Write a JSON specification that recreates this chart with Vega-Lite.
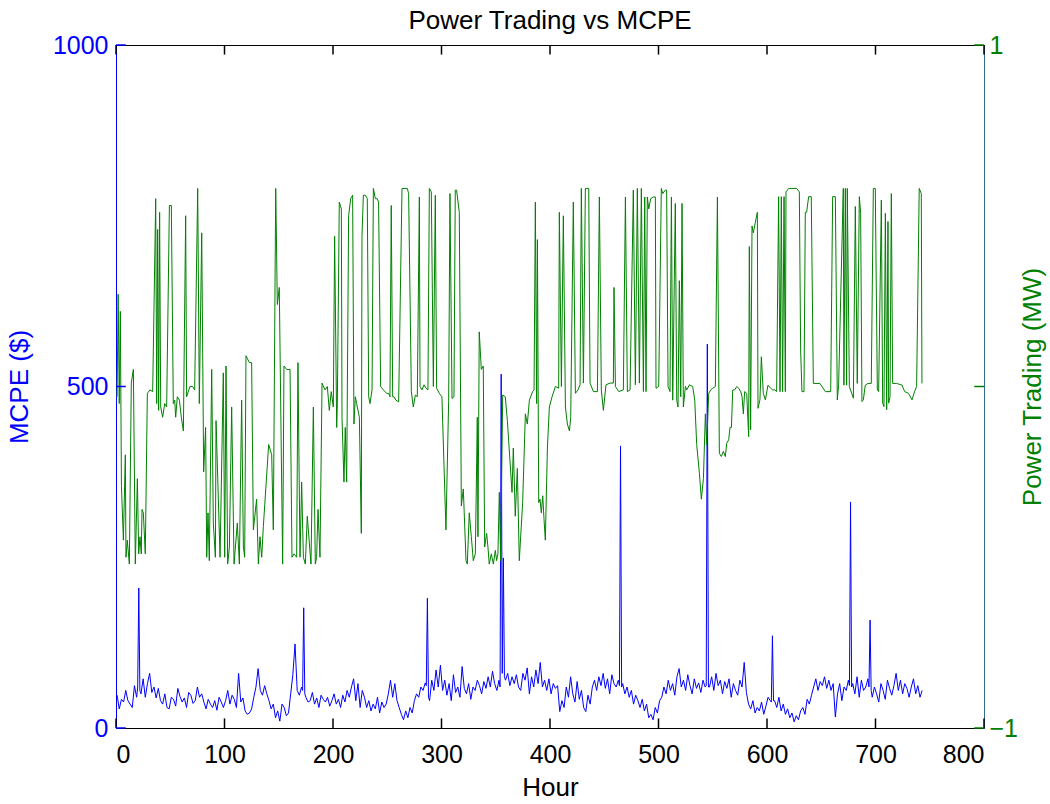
{
"$schema": "https://vega.github.io/schema/vega-lite/v6.json",
"width": 868, "height": 683,
"autosize": {"type": "none"},
"padding": {"left": 116, "top": 45, "right": 66, "bottom": 76},
"background": "white",
"title": {"text": "Power Trading vs MCPE", "fontSize": 26, "fontWeight": "normal", "font": "Liberation Sans", "color": "black", "offset": -1},
"config": {"font": "Liberation Sans", "view": {"stroke": "black", "strokeWidth": 1},
  "axis": {"grid": false, "ticks": false, "labelFont": "Liberation Sans", "titleFont": "Liberation Sans", "labelFontSize": 25, "titleFontSize": 26, "titleFontWeight": "normal", "domainWidth": 1}},
"datasets": {
"xticks": [{"h":0},{"h":100},{"h":200},{"h":300},{"h":400},{"h":500},{"h":600},{"h":700},{"h":800}],
"lticks": [{"p":0},{"p":500},{"p":1000}],
"rticks": [{"t":-1},{"t":0},{"t":1}],
"mcpe": [
{"h":1,"p":48},{"h":3,"p":28},{"h":5,"p":42},{"h":7,"p":38},{"h":9,"p":55},{"h":11,"p":40},{"h":13,"p":35},{"h":15,"p":30},{"h":17,"p":62},{"h":19,"p":45},{"h":20,"p":60},{"h":21,"p":205},{"h":22,"p":55},{"h":23,"p":50},{"h":25,"p":72},{"h":27,"p":45},{"h":29,"p":65},{"h":31,"p":80},{"h":33,"p":52},{"h":35,"p":60},{"h":37,"p":44},{"h":39,"p":58},
{"h":41,"p":40},{"h":43,"p":35},{"h":45,"p":50},{"h":47,"p":30},{"h":49,"p":28},{"h":51,"p":45},{"h":53,"p":42},{"h":55,"p":32},{"h":57,"p":58},{"h":59,"p":46},{"h":61,"p":38},{"h":63,"p":44},{"h":65,"p":30},{"h":67,"p":52},{"h":69,"p":48},{"h":71,"p":36},{"h":73,"p":40},{"h":75,"p":60},{"h":77,"p":45},{"h":79,"p":50},{"h":81,"p":38},{"h":83,"p":28},{"h":85,"p":42},{"h":87,"p":35},{"h":89,"p":30},{"h":91,"p":40},{"h":93,"p":26},{"h":95,"p":45},{"h":97,"p":38},{"h":99,"p":30},
{"h":101,"p":40},{"h":103,"p":55},{"h":105,"p":35},{"h":107,"p":48},{"h":109,"p":42},{"h":111,"p":30},{"h":113,"p":80},{"h":115,"p":38},{"h":117,"p":44},{"h":119,"p":25},{"h":121,"p":20},{"h":123,"p":22},{"h":125,"p":28},
{"h":127,"p":45},{"h":129,"p":60},{"h":131,"p":87},{"h":133,"p":55},{"h":135,"p":48},{"h":137,"p":62},{"h":139,"p":50},
{"h":141,"p":40},{"h":143,"p":28},{"h":145,"p":35},{"h":147,"p":15},{"h":149,"p":25},{"h":151,"p":10},{"h":153,"p":35},{"h":155,"p":30},{"h":157,"p":18},{"h":159,"p":22},
{"h":161,"p":50},{"h":163,"p":78},{"h":165,"p":123},{"h":167,"p":55},{"h":169,"p":48},{"h":171,"p":60},{"h":172,"p":55},{"h":173,"p":176},{"h":174,"p":50},{"h":175,"p":45},{"h":177,"p":38},{"h":179,"p":40},{"h":181,"p":52},{"h":183,"p":35},{"h":185,"p":44},{"h":187,"p":30},{"h":189,"p":48},{"h":191,"p":42},{"h":193,"p":38},{"h":195,"p":45},{"h":197,"p":32},{"h":199,"p":40},
{"h":201,"p":50},{"h":203,"p":35},{"h":205,"p":42},{"h":207,"p":30},{"h":209,"p":48},{"h":211,"p":38},{"h":213,"p":55},
{"h":215,"p":45},{"h":217,"p":60},{"h":219,"p":72},{"h":221,"p":40},{"h":223,"p":65},{"h":225,"p":30},{"h":227,"p":55},{"h":229,"p":45},
{"h":231,"p":30},{"h":233,"p":40},{"h":235,"p":25},{"h":237,"p":35},{"h":239,"p":28},{"h":241,"p":45},{"h":243,"p":22},{"h":245,"p":38},{"h":247,"p":30},{"h":249,"p":35},
{"h":251,"p":50},{"h":253,"p":70},{"h":255,"p":45},{"h":257,"p":65},{"h":259,"p":40},
{"h":261,"p":30},{"h":263,"p":20},{"h":265,"p":12},{"h":267,"p":25},{"h":269,"p":15},{"h":271,"p":30},{"h":273,"p":22},{"h":275,"p":40},
{"h":277,"p":50},{"h":279,"p":45},{"h":281,"p":60},{"h":283,"p":55},{"h":285,"p":66},{"h":286,"p":62},{"h":287,"p":190},{"h":288,"p":45},
{"h":289,"p":40},{"h":291,"p":70},{"h":293,"p":55},{"h":295,"p":85},{"h":297,"p":60},{"h":299,"p":92},
{"h":301,"p":55},{"h":303,"p":70},{"h":305,"p":48},{"h":307,"p":65},{"h":309,"p":40},{"h":311,"p":78},{"h":313,"p":52},{"h":315,"p":60},{"h":317,"p":45},{"h":319,"p":90},{"h":321,"p":58},{"h":323,"p":50},{"h":325,"p":65},{"h":327,"p":42},{"h":329,"p":60},
{"h":331,"p":55},{"h":333,"p":70},{"h":335,"p":62},{"h":337,"p":50},{"h":339,"p":68},{"h":341,"p":58},{"h":343,"p":75},{"h":345,"p":60},{"h":347,"p":83},{"h":349,"p":65},{"h":351,"p":55},{"h":353,"p":70},{"h":354,"p":60},{"h":355,"p":518},{"h":356,"p":80},{"h":357,"p":249},{"h":358,"p":75},
{"h":359,"p":70},{"h":361,"p":80},{"h":363,"p":62},{"h":365,"p":75},{"h":367,"p":65},{"h":369,"p":78},{"h":371,"p":60},
{"h":373,"p":55},{"h":375,"p":80},{"h":377,"p":70},{"h":379,"p":88},{"h":381,"p":50},{"h":383,"p":75},{"h":385,"p":60},{"h":387,"p":85},{"h":389,"p":65},{"h":391,"p":96},
{"h":393,"p":60},{"h":395,"p":70},{"h":397,"p":55},{"h":399,"p":72},{"h":401,"p":50},{"h":403,"p":65},{"h":405,"p":58},{"h":407,"p":62},
{"h":409,"p":24},{"h":411,"p":40},{"h":413,"p":30},
{"h":415,"p":60},{"h":417,"p":45},{"h":419,"p":75},{"h":421,"p":50},{"h":423,"p":38},{"h":425,"p":68},{"h":427,"p":42},{"h":429,"p":55},{"h":431,"p":30},{"h":433,"p":24},{"h":435,"p":48},{"h":437,"p":35},
{"h":439,"p":60},{"h":441,"p":70},{"h":443,"p":55},{"h":445,"p":75},{"h":447,"p":62},{"h":449,"p":80},{"h":451,"p":58},{"h":453,"p":72},{"h":455,"p":50},{"h":457,"p":78},{"h":459,"p":65},{"h":461,"p":60},{"h":463,"p":70},{"h":464,"p":62},{"h":465,"p":413},{"h":466,"p":60},
{"h":467,"p":65},{"h":469,"p":50},{"h":471,"p":60},{"h":473,"p":45},{"h":475,"p":55},{"h":477,"p":35},{"h":479,"p":48},{"h":481,"p":40},{"h":483,"p":30},{"h":485,"p":42},{"h":487,"p":25},{"h":489,"p":35},{"h":491,"p":15},{"h":493,"p":20},{"h":495,"p":12},{"h":497,"p":30},{"h":499,"p":22},{"h":501,"p":40},
{"h":503,"p":45},{"h":505,"p":60},{"h":507,"p":50},{"h":509,"p":70},{"h":511,"p":55},{"h":513,"p":65},{"h":515,"p":48},{"h":517,"p":75},{"h":519,"p":87},{"h":521,"p":60},{"h":523,"p":70},{"h":525,"p":55},{"h":527,"p":78},{"h":529,"p":62},{"h":531,"p":50},{"h":533,"p":72},{"h":535,"p":58},{"h":537,"p":66},{"h":539,"p":52},{"h":541,"p":70},{"h":543,"p":60},{"h":544,"p":62},{"h":545,"p":562},{"h":546,"p":60},
{"h":547,"p":60},{"h":549,"p":75},{"h":551,"p":55},{"h":553,"p":80},{"h":555,"p":62},{"h":557,"p":70},{"h":559,"p":50},{"h":561,"p":68},{"h":563,"p":58},{"h":565,"p":72},{"h":567,"p":45},{"h":569,"p":65},{"h":571,"p":55},{"h":573,"p":48},{"h":575,"p":70},{"h":577,"p":60},{"h":579,"p":96},{"h":581,"p":52},
{"h":583,"p":35},{"h":585,"p":28},{"h":587,"p":40},{"h":589,"p":22},{"h":591,"p":30},{"h":593,"p":25},{"h":595,"p":38},{"h":597,"p":20},{"h":599,"p":32},{"h":601,"p":45},{"h":603,"p":40},{"h":604,"p":38},{"h":605,"p":135},{"h":606,"p":40},
{"h":607,"p":40},{"h":609,"p":30},{"h":611,"p":45},{"h":613,"p":25},{"h":615,"p":35},{"h":617,"p":20},{"h":619,"p":28},{"h":621,"p":15},{"h":623,"p":22},{"h":625,"p":9},{"h":627,"p":18},{"h":629,"p":12},{"h":631,"p":25},{"h":633,"p":30},{"h":635,"p":20},{"h":637,"p":42},{"h":639,"p":35},{"h":641,"p":48},
{"h":643,"p":60},{"h":645,"p":72},{"h":647,"p":55},{"h":649,"p":68},{"h":651,"p":62},{"h":653,"p":75},{"h":655,"p":58},{"h":657,"p":70},{"h":659,"p":55},{"h":661,"p":65},
{"h":663,"p":16},{"h":665,"p":50},{"h":667,"p":65},{"h":669,"p":40},{"h":671,"p":60},{"h":673,"p":55},{"h":675,"p":70},{"h":676,"p":62},{"h":677,"p":331},{"h":678,"p":60},
{"h":679,"p":65},{"h":681,"p":50},{"h":683,"p":75},{"h":685,"p":45},{"h":687,"p":70},{"h":689,"p":55},{"h":691,"p":60},{"h":693,"p":72},{"h":694,"p":60},{"h":695,"p":158},{"h":696,"p":55},
{"h":697,"p":45},{"h":699,"p":60},{"h":701,"p":50},{"h":703,"p":38},{"h":705,"p":65},{"h":707,"p":55},{"h":709,"p":42},{"h":711,"p":70},{"h":713,"p":58},{"h":715,"p":48},{"h":717,"p":62},{"h":719,"p":80},{"h":721,"p":55},{"h":723,"p":70},{"h":725,"p":50},{"h":727,"p":65},{"h":729,"p":58},{"h":731,"p":45},{"h":733,"p":60},{"h":735,"p":72},{"h":737,"p":50},{"h":739,"p":62},{"h":741,"p":45},{"h":743,"p":55}
],
"trade": [
{"h":1,"t":-0.03},{"h":2,"t":0.27},{"h":3,"t":-0.05},{"h":4,"t":0.22},{"h":5,"t":-0.29},{"h":6.8,"t":-0.45},{"h":8.6,"t":-0.2},{"h":9.2,"t":-0.5},{"h":10.4,"t":-0.45},{"h":12.3,"t":-0.52},{"h":14.1,"t":0.01},{"h":16,"t":0.05},{"h":17.8,"t":-0.52},{"h":19.7,"t":-0.27},{"h":20.9,"t":-0.49},{"h":22.1,"t":-0.44},{"h":23.3,"t":-0.49},{"h":24,"t":-0.36},{"h":25.2,"t":-0.37},{"h":27,"t":-0.49},{"h":28.9,"t":-0.02},{"h":31.3,"t":-0.01},{"h":33.8,"t":-0.015},{"h":36.6,"t":0.55},{"h":37.5,"t":-0.05},{"h":38.4,"t":0.46},{"h":39.3,"t":-0.07},{"h":40.2,"t":0.51},{"h":41.2,"t":-0.06},{"h":43,"t":-0.09},{"h":44.9,"t":-0.05},{"h":46.7,"t":-0.06},{"h":49.2,"t":0.53},{"h":51,"t":0.53},{"h":52.8,"t":-0.05},{"h":54.1,"t":-0.04},{"h":55,"t":-0.09},{"h":56.5,"t":-0.03},{"h":58.4,"t":-0.04},{"h":60.2,"t":-0.09},{"h":62.1,"t":-0.13},{"h":64.2,"t":0.5},{"h":65.1,"t":-0.03},{"h":68.2,"t":0},{"h":70.7,"t":0},{"h":72.5,"t":-0.01},{"h":75.3,"t":0.58},{"h":76.8,"t":-0.05},{"h":79,"t":0.45},{"h":80.8,"t":-0.25},{"h":82.6,"t":-0.12},{"h":83.6,"t":-0.5},{"h":84.8,"t":-0.37},{"h":86,"t":-0.51},{"h":88.2,"t":0.05},{"h":89.7,"t":-0.4},{"h":91.6,"t":-0.5},{"h":92.2,"t":-0.1},{"h":95.9,"t":-0.5},{"h":98.9,"t":0.04},{"h":100.2,"t":-0.5},{"h":101.4,"t":0.06},{"h":102.9,"t":-0.52},{"h":104.5,"t":-0.47},{"h":106.6,"t":-0.06},{"h":108.8,"t":-0.52},{"h":111.8,"t":-0.4},{"h":113.7,"t":-0.52},{"h":115.8,"t":-0.04},{"h":117.4,"t":-0.47},{"h":118.6,"t":-0.5},{"h":119.8,"t":0.09},{"h":122.9,"t":0.07},{"h":125,"t":0.07},{"h":126.6,"t":-0.42},{"h":129.6,"t":-0.33},{"h":131.2,"t":-0.52},{"h":132.7,"t":-0.44},{"h":134.3,"t":-0.5},{"h":135.8,"t":-0.41},{"h":140.7,"t":-0.17},{"h":143.5,"t":-0.2},{"h":145,"t":-0.42},{"h":147.2,"t":0.58},{"h":148.7,"t":0.24},{"h":150.5,"t":0.29},{"h":153.6,"t":-0.52},{"h":154.8,"t":0.06},{"h":157.3,"t":0.05},{"h":160.4,"t":0.05},{"h":162.2,"t":-0.5},{"h":164.1,"t":-0.49},{"h":166.5,"t":-0.5},{"h":167.7,"t":0.07},{"h":169.6,"t":-0.5},{"h":171.1,"t":-0.28},{"h":172.7,"t":-0.5},{"h":174.5,"t":-0.52},{"h":176.3,"t":-0.38},{"h":179.7,"t":-0.52},{"h":181.9,"t":-0.06},{"h":183.7,"t":-0.52},{"h":184.9,"t":-0.5},{"h":186.2,"t":-0.36},{"h":188,"t":-0.5},{"h":189.9,"t":0.01},{"h":192.6,"t":-0.01},{"h":194.8,"t":0},{"h":196.6,"t":-0.07},
{"h":198.4,"t":-0.015},{"h":200.3,"t":-0.06},{"h":201.5,"t":0.44},{"h":203.4,"t":-0.12},{"h":204,"t":-0.05},{"h":205.8,"t":0.54},{"h":207.7,"t":0.52},{"h":208.3,"t":-0.09},{"h":210.1,"t":-0.28},{"h":211.3,"t":-0.12},{"h":212.6,"t":-0.28},{"h":214.4,"t":0.5},{"h":216.3,"t":0.55},{"h":218.1,"t":0.56},{"h":219.3,"t":-0.11},{"h":220.6,"t":-0.03},{"h":221.8,"t":-0.05},{"h":224.3,"t":-0.09},{"h":226.1,"t":-0.43},{"h":226.7,"t":0.44},{"h":228,"t":0.56},{"h":229.8,"t":0.56},{"h":231.6,"t":0.55},{"h":232.9,"t":-0.03},{"h":234.1,"t":-0.05},{"h":236,"t":-0.01},{"h":237.2,"t":0.58},{"h":239,"t":0.55},{"h":240.8,"t":0.55},{"h":242,"t":0.54},{"h":243.9,"t":0},{"h":246.4,"t":-0.01},{"h":249.4,"t":-0.02},{"h":251.3,"t":-0.02},{"h":252.5,"t":-0.03},{"h":253.7,"t":0.53},{"h":255,"t":-0.03},{"h":256.2,"t":-0.03},{"h":258,"t":-0.04},{"h":260.5,"t":-0.045},{"h":263.6,"t":0.58},{"h":268.5,"t":0.58},{"h":269.7,"t":0.565},{"h":272.2,"t":-0.015},{"h":274,"t":-0.06},{"h":275.9,"t":-0.025},{"h":277.7,"t":-0.03},{"h":279.6,"t":0.555},{"h":280.2,"t":0},{"h":282,"t":-0.01},{"h":283.9,"t":0.005},{"h":285.7,"t":-0.005},{"h":287.5,"t":-0.01},{"h":288.8,"t":0.58},{"h":290.6,"t":0.57},{"h":292.5,"t":0},{"h":294.3,"t":0.56},{"h":295.5,"t":-0.005},{"h":298,"t":-0.02},{"h":300.4,"t":-0.03},{"h":304.1,"t":-0.42},{"h":306.6,"t":-0.04},{"h":307.8,"t":0.565},{"h":309.7,"t":-0.035},{"h":311.5,"t":-0.03},{"h":312.7,"t":0.575},{"h":313.9,"t":0.575},{"h":316.4,"t":0.51},{"h":318.3,"t":-0.35},{"h":320.1,"t":-0.3},{"h":322.6,"t":-0.51},{"h":323.8,"t":-0.52},{"h":325.6,"t":-0.37},{"h":327.5,"t":-0.44},{"h":329.3,"t":-0.51},{"h":331.2,"t":-0.49},{"h":333,"t":-0.09},{"h":333.6,"t":-0.44},{"h":334.8,"t":0.16},{"h":336.7,"t":0.05},{"h":338.5,"t":0.06},{"h":339.8,"t":-0.47},{"h":341.6,"t":-0.43},{"h":342.8,"t":-0.47},{"h":344,"t":-0.52},{"h":345.9,"t":-0.49},{"h":347.8,"t":-0.52},{"h":349.6,"t":-0.48},{"h":350.8,"t":-0.51},{"h":352,"t":-0.49},{"h":353.3,"t":-0.31},{"h":354.5,"t":-0.51},{"h":356.4,"t":-0.025},{"h":358.8,"t":-0.03},{"h":360.7,"t":-0.1},{"h":365,"t":-0.31},{"h":366.2,"t":-0.18},{"h":368,"t":-0.38},{"h":369.9,"t":-0.24},{"h":371.7,"t":-0.51},{"h":374.8,"t":-0.34},{"h":377.3,"t":-0.08},{"h":379.1,"t":-0.11},{"h":381,"t":-0.04},
{"h":384,"t":-0.015},{"h":385.3,"t":-0.01},{"h":386.5,"t":0.54},{"h":387.7,"t":-0.05},{"h":388.4,"t":0.43},{"h":389.6,"t":-0.34},{"h":390.8,"t":-0.33},{"h":392,"t":-0.37},{"h":393.3,"t":-0.32},{"h":394.5,"t":-0.39},{"h":395.7,"t":-0.45},{"h":397.6,"t":-0.18},{"h":399.4,"t":-0.06},{"h":401.9,"t":-0.03},{"h":405,"t":0},{"h":408,"t":-0.005},{"h":408.6,"t":0.51},{"h":410.5,"t":0},{"h":412.3,"t":0.5},{"h":414.2,"t":-0.06},{"h":416,"t":-0.11},{"h":417.9,"t":-0.13},{"h":419.1,"t":-0.09},{"h":421.5,"t":0.54},{"h":423.4,"t":-0.02},{"h":425.8,"t":-0.01},{"h":427.7,"t":0.005},{"h":428.9,"t":0.58},{"h":430.8,"t":0.01},{"h":432.6,"t":0.58},{"h":435.7,"t":0.58},{"h":436.9,"t":0.01},{"h":440,"t":-0.015},{"h":443.7,"t":-0.015},{"h":445.5,"t":0.555},{"h":447.3,"t":-0.01},{"h":449.2,"t":-0.07},{"h":451.6,"t":0.005},{"h":455.3,"t":0.01},{"h":458.4,"t":0.01},{"h":459,"t":0.29},{"h":460.3,"t":0},{"h":463.4,"t":-0.015},{"h":467.6,"t":-0.01},{"h":469.5,"t":0.555},{"h":471.3,"t":-0.015},{"h":473.8,"t":-0.01},{"h":476.8,"t":0.575},{"h":478.7,"t":0.005},{"h":480.5,"t":0.58},{"h":482.4,"t":0.01},{"h":484.2,"t":0.58},{"h":486.1,"t":-0.015},{"h":487.3,"t":0.555},{"h":488.5,"t":-0.015},{"h":489.7,"t":0.555},{"h":491,"t":0.52},{"h":492.8,"t":0.55},{"h":495.3,"t":0.555},{"h":497.1,"t":0.555},{"h":497.7,"t":-0.005},{"h":500.2,"t":0},{"h":502.6,"t":0.58},{"h":503.9,"t":0.565},{"h":506.3,"t":0.575},{"h":507.5,"t":0.575},{"h":508.8,"t":0},{"h":510.6,"t":-0.015},{"h":511.9,"t":0.555},{"h":513.1,"t":-0.04},{"h":515.5,"t":0.536},{"h":516.8,"t":-0.04},{"h":518,"t":-0.06},{"h":519.2,"t":0.31},{"h":520.5,"t":-0.03},{"h":521.7,"t":0.536},{"h":522.9,"t":-0.06},{"h":524.8,"t":0},{"h":526,"t":-0.01},{"h":528.5,"t":0.005},{"h":531.5,"t":0},{"h":533.4,"t":-0.04},{"h":535.2,"t":-0.17},{"h":537.7,"t":-0.254},{"h":539.5,"t":-0.33},{"h":541.4,"t":-0.27},{"h":543.2,"t":-0.08},{"h":544.4,"t":-0.17},{"h":546.3,"t":-0.02},{"h":548.1,"t":-0.01},{"h":550,"t":-0.005},{"h":552.4,"t":0},{"h":554.3,"t":0.555},{"h":556.1,"t":-0.196},{"h":557.9,"t":-0.205},{"h":559.8,"t":-0.19},{"h":561.6,"t":-0.205},{"h":562.9,"t":-0.166},{"h":564.7,"t":-0.156},{"h":565.9,"t":-0.12},{"h":567.2,"t":-0.12},{"h":568.4,"t":-0.01},{"h":570.2,"t":-0.01},{"h":572.1,"t":0},{"h":573.9,"t":-0.005},{"h":575.8,"t":-0.015},
{"h":577,"t":-0.03},{"h":578.2,"t":-0.08},{"h":579.4,"t":-0.015},{"h":581.3,"t":-0.02},{"h":583.1,"t":-0.147},{"h":583.7,"t":0.41},{"h":584.9,"t":-0.127},{"h":586.2,"t":0.47},{"h":587.4,"t":0.45},{"h":589.2,"t":0.48},{"h":591.1,"t":0.51},{"h":591.7,"t":-0.064},{"h":593.5,"t":-0.039},{"h":594.8,"t":0.087},{"h":596.6,"t":-0.02},{"h":598.5,"t":-0.039},{"h":600.9,"t":0.004},{"h":603.4,"t":-0.005},{"h":605.2,"t":-0.01},{"h":607.1,"t":-0.01},{"h":608.9,"t":-0.015},{"h":610.7,"t":0.556},{"h":612,"t":-0.015},{"h":613.2,"t":0.556},{"h":614.4,"t":-0.015},{"h":615.7,"t":0.556},{"h":616.9,"t":-0.015},{"h":617.5,"t":0.57},{"h":620,"t":0.58},{"h":623,"t":0.58},{"h":627.3,"t":0.58},{"h":629.8,"t":0.57},{"h":631,"t":0.107},{"h":632.2,"t":-0.015},{"h":634.1,"t":-0.015},{"h":635.3,"t":0.51},{"h":636.5,"t":0.51},{"h":638.4,"t":0.556},{"h":640.8,"t":0.556},{"h":642.7,"t":0.009},{"h":648.8,"t":0.009},{"h":653.8,"t":-0.015},{"h":658.7,"t":-0.015},{"h":660.5,"t":0.556},{"h":663,"t":0.556},{"h":664.8,"t":-0.039},{"h":666,"t":0.004},{"h":670.3,"t":0.58},{"h":670.9,"t":0.004},{"h":672.2,"t":0.58},{"h":673.4,"t":0.004},{"h":674,"t":0.58},{"h":675.9,"t":0},{"h":679.6,"t":-0.034},{"h":681.4,"t":0.527},{"h":683.2,"t":0.009},{"h":685.1,"t":0.556},{"h":686.3,"t":0.507},{"h":687.5,"t":-0.044},{"h":688.8,"t":-0.039},{"h":690.6,"t":0.004},{"h":693.1,"t":0.009},{"h":696.1,"t":0.009},{"h":698,"t":0.58},{"h":699.8,"t":0.58},{"h":701.7,"t":-0.01},{"h":702.9,"t":-0.015},{"h":705.4,"t":0.546},{"h":706.6,"t":-0.049},{"h":707.8,"t":-0.059},{"h":709.1,"t":0.507},{"h":710.3,"t":-0.068},{"h":711.5,"t":0.483},{"h":712.1,"t":-0.049},{"h":713.4,"t":-0.03},{"h":714.6,"t":0.565},{"h":715.8,"t":0.009},{"h":719.5,"t":0.009},{"h":724.4,"t":0.004},{"h":726.9,"t":-0.015},{"h":730.5,"t":-0.02},{"h":733.6,"t":-0.039},{"h":736,"t":-0.015},{"h":737.9,"t":0},{"h":740.3,"t":0.58},{"h":742.2,"t":0.565},{"h":742.8,"t":0.009}
]
},
"layer": [
{"data": {"name": "mcpe"},
 "mark": {"type": "line", "color": "#0000ff", "strokeWidth": 1},
 "encoding": {
  "x": {"field": "h", "type": "quantitative", "scale": {"domain": [0, 800], "nice": false},
        "axis": {"orient": "bottom", "title": "Hour", "values": [0,100,200,300,400,500,600,700,800], "domainColor": "black", "labelColor": "black", "titleColor": "black", "labelPadding": 14, "titlePadding": 7}},
  "y": {"field": "p", "type": "quantitative", "scale": {"domain": [0, 1000], "nice": false},
        "axis": {"orient": "left", "title": "MCPE ($)", "values": [0, 500, 1000], "format": "d", "domainColor": "#0000ff", "labelColor": "#0000ff", "titleColor": "#0000ff", "labelPadding": 8, "titlePadding": 20}}
 }},
{"data": {"name": "trade"},
 "mark": {"type": "line", "color": "#008000", "strokeWidth": 1},
 "encoding": {
  "x": {"field": "h", "type": "quantitative"},
  "y": {"field": "t", "type": "quantitative", "scale": {"domain": [-1, 1], "nice": false},
        "axis": {"orient": "right", "title": "Power Trading (MW)", "titleAngle": 270, "values": [-1, 0, 1], "format": "d", "domainColor": "#336e8c", "labelColor": "#008000", "titleColor": "#008000", "labelPadding": 5, "titlePadding": 28}}
 }},
{"data": {"name": "xticks"},
 "mark": {"type": "rule", "color": "black", "strokeWidth": 1.5},
 "encoding": {
  "x": {"field": "h", "type": "quantitative"},
  "y": {"datum": 0, "type": "quantitative", "scale": {"domain": [0, 1000], "nice": false}, "axis": null},
  "y2": {"datum": 14}
 }},
{"data": {"name": "xticks"},
 "mark": {"type": "rule", "color": "black", "strokeWidth": 1.5},
 "encoding": {
  "x": {"field": "h", "type": "quantitative"},
  "y": {"datum": 986, "type": "quantitative", "scale": {"domain": [0, 1000], "nice": false}, "axis": null},
  "y2": {"datum": 1000}
 }},
{"data": {"name": "lticks"},
 "mark": {"type": "rule", "color": "#0000ff", "strokeWidth": 1.5},
 "encoding": {
  "x": {"datum": 0, "type": "quantitative"},
  "x2": {"datum": 9},
  "y": {"field": "p", "type": "quantitative", "scale": {"domain": [0, 1000], "nice": false}, "axis": null}
 }},
{"data": {"name": "rticks"},
 "mark": {"type": "rule", "color": "#008000", "strokeWidth": 1.5},
 "encoding": {
  "x": {"datum": 791, "type": "quantitative"},
  "x2": {"datum": 800},
  "y": {"field": "t", "type": "quantitative", "scale": {"domain": [-1, 1], "nice": false}, "axis": null}
 }}
],
"resolve": {"scale": {"y": "independent"}}
}
